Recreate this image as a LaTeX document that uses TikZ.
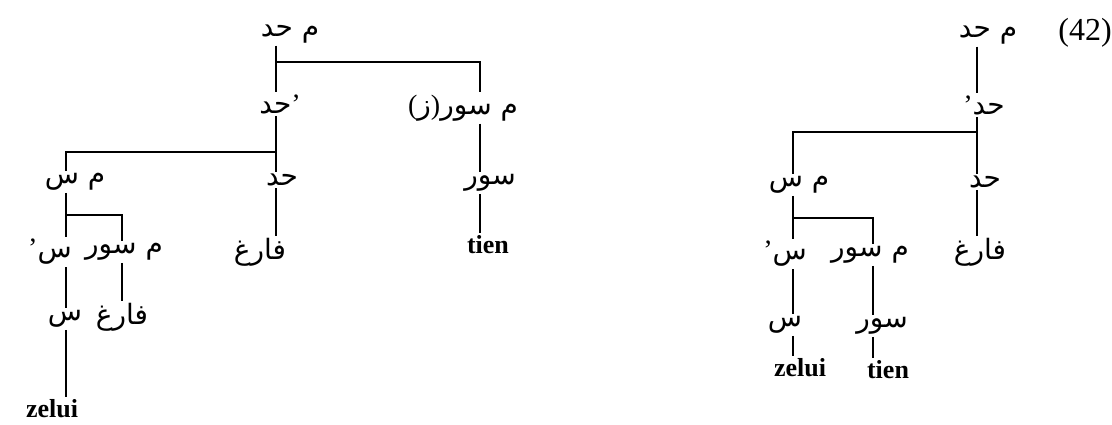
\documentclass[tikz,border=0pt]{standalone}
\usepackage{fontspec}
\setmainfont{Liberation Serif}
\newfontfamily\arabicfont[Script=Arabic]{DejaVu Sans}
\TeXXeTstate=1
\usetikzlibrary{positioning}
\newcommand{\artxt}[1]{{\arabicfont\beginR #1\endR}}
\tikzset{
  lbl/.style={inner sep=1pt,font=\fontsize{14}{14}\selectfont},
  lat/.style={inner sep=1pt,font=\fontsize{13}{13}\selectfont\bfseries},
  br/.style={line width=1pt}
}
\begin{document}
\begin{tikzpicture}[x=0.5pt,y=-0.5pt]
  \useasboundingbox (0,0) rectangle (1112,424);
  % stem columns
  \coordinate (cA) at (276,0);
  \coordinate (cB) at (480,0);
  \coordinate (cC) at (66,0);
  \coordinate (cD) at (122,0);
  \coordinate (cE) at (977,0);
  \coordinate (cF) at (793,0);
  \coordinate (cG) at (873,0);
  % bar junctions
  \coordinate (jA) at (276,62);
  \coordinate (jB) at (276,152);
  \coordinate (jC) at (66,215);
  \coordinate (jE) at (977,132);
  \coordinate (jF) at (793,218);

  % left tree
  \node[lbl] (rootL)   at (290,34)  {\artxt{م حد}};
  \node[lbl] (qzL)     at (463,108) {(\artxt{ز})\artxt{م سور}};
  \node[lbl] (hd1L)    at (280,104) {\artxt{حد}'};
  \node[lbl] (npL)     at (75,182)  {\artxt{م س}};
  \node[lbl] (hd0L)    at (282,180) {\artxt{حد}};
  \node[lbl] (qL)      at (490,183) {\artxt{سور}};
  \node[lbl] (nbarL)   at (50,252)  {'\artxt{س}};
  \node[lbl] (qpL)     at (124,252) {\artxt{م سور}};
  \node[lbl] (emptyL)  at (260,252) {\artxt{فارغ}};
  \node[lat] (tienL)   at (488,245) {tien};
  \node[lbl] (nL)      at (65,319)  {\artxt{س}};
  \node[lbl] (emptyqL) at (122,317) {\artxt{فارغ}};
  \node[lat] (zeluiL)  at (52,409)  {zelui};

  \draw[br] (rootL.south -| cA) -- (hd1L.north -| cA);
  \draw[br] (jA) -| (qzL.north -| cB);
  \draw[br] (qzL.south -| cB) -- (qL.north -| cB);
  \draw[br] (qL.south -| cB) -- (tienL.north -| cB);
  \draw[br] (hd1L.south -| cA) -- (hd0L.north -| cA);
  \draw[br] (jB) -| (npL.north -| cC);
  \draw[br] (hd0L.south -| cA) -- (emptyL.north -| cA);
  \draw[br] (npL.south -| cC) -- (nbarL.north -| cC);
  \draw[br] (jC) -| (qpL.north -| cD);
  \draw[br] (nbarL.south -| cC) -- (nL.north -| cC);
  \draw[br] (qpL.south -| cD) -- (emptyqL.north -| cD);
  \draw[br] (nL.south -| cC) -- (zeluiL.north -| cC);

  % right tree
  \node[font=\fontsize{16}{16}\selectfont,inner sep=1pt] (num) at (1085,33) {(42)};
  \node[lbl] (rootR)  at (988,35)  {\artxt{م حد}};
  \node[lbl] (hd1R)   at (984,105) {'\artxt{حد}};
  \node[lbl] (npR)    at (799,185) {\artxt{م س}};
  \node[lbl] (hd0R)   at (985,182) {\artxt{حد}};
  \node[lbl] (emptyR) at (980,252) {\artxt{فارغ}};
  \node[lbl] (nbarR)  at (785,254) {'\artxt{س}};
  \node[lbl] (qpR)    at (870,255) {\artxt{م سور}};
  \node[lbl] (nR)     at (785,325) {\artxt{س}};
  \node[lbl] (qR)     at (882,326) {\artxt{سور}};
  \node[lat] (zeluiR) at (800,368) {zelui};
  \node[lat] (tienR)  at (888,370) {tien};

  \draw[br] (rootR.south -| cE) -- (hd1R.north -| cE);
  \draw[br] (hd1R.south -| cE) -- (hd0R.north -| cE);
  \draw[br] (jE) -| (npR.north -| cF);
  \draw[br] (hd0R.south -| cE) -- (emptyR.north -| cE);
  \draw[br] (npR.south -| cF) -- (nbarR.north -| cF);
  \draw[br] (jF) -| (qpR.north -| cG);
  \draw[br] (nbarR.south -| cF) -- (nR.north -| cF);
  \draw[br] (qpR.south -| cG) -- (qR.north -| cG);
  \draw[br] (nR.south -| cF) -- (zeluiR.north -| cF);
  \draw[br] (qR.south -| cG) -- (tienR.north -| cG);
\end{tikzpicture}
\end{document}
